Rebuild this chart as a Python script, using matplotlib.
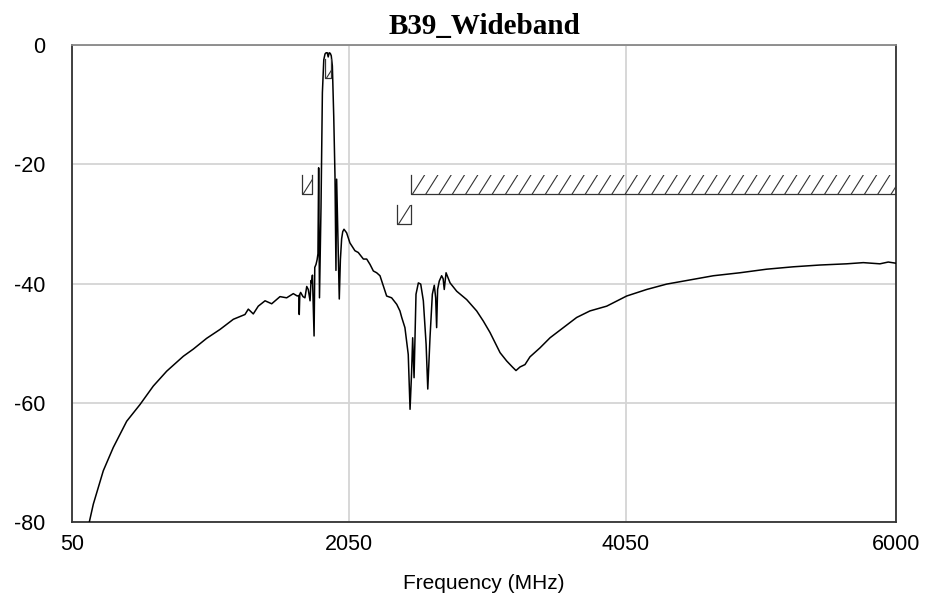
import numpy as np
import matplotlib
matplotlib.use("Agg")
import matplotlib.pyplot as plt
from matplotlib.patches import Rectangle

plt.rcParams["axes.unicode_minus"] = False

# measured response (MHz, dB)
freq = [175, 204, 276, 348, 445, 541, 637, 734, 854, 926, 1022, 1119, 1215,
        1299, 1323, 1359, 1395, 1444, 1492, 1552, 1600, 1648, 1677, 1688, 1691,
        1695, 1701, 1718, 1732, 1745, 1756, 1769, 1776, 1781, 1786, 1798, 1803,
        1812, 1820, 1826, 1831, 1837, 1848, 1858, 1868, 1877, 1885, 1893, 1900,
        1907, 1915, 1922, 1930, 1940, 1949, 1956, 1961, 1970, 1980, 1988, 1997,
        2005, 2014, 2033, 2057, 2093, 2117, 2154, 2178, 2202, 2226, 2250, 2274,
        2298, 2322, 2358, 2395, 2418, 2431, 2454, 2478, 2491, 2502, 2510, 2520,
        2534, 2551, 2568, 2587, 2607, 2619, 2635, 2652, 2666, 2676, 2683, 2690,
        2702, 2719, 2730, 2738, 2751, 2780, 2828, 2900, 2972, 3020, 3068, 3117,
        3141, 3189, 3230, 3256, 3285, 3321, 3357, 3429, 3502, 3598, 3694, 3790,
        3911, 4055, 4200, 4344, 4488, 4681, 4873, 5066, 5258, 5451, 5643, 5764,
        5884, 5944, 6000]
s21 = [-80.0, -77.0, -71.4, -67.5, -63.1, -60.3, -57.2, -54.7, -52.2, -51.0, -49.2, -47.7, -46.0,
       -45.2, -44.3, -45.1, -43.8, -42.9, -43.4, -42.2, -42.4, -41.7, -42.1, -42.0, -45.2,
       -41.8, -41.5, -42.2, -42.4, -40.5, -41.0, -42.9, -39.5, -39.9, -38.6, -48.8, -37.3,
       -36.8, -36.0, -35.0, -20.6, -42.4, -27.3, -8.0, -2.5, -1.5, -1.3, -1.3, -2.0,
       -1.3, -1.4, -1.8, -3.5, -12.0, -22.0, -37.8, -22.5, -32.0, -42.6, -36.0, -32.5,
       -31.3, -30.9, -31.5, -33.2, -34.5, -34.8, -35.9, -35.9, -36.8, -37.9, -38.2, -38.7,
       -40.4, -42.1, -42.4, -43.5, -44.6, -45.7, -47.4, -51.9, -61.1, -55.0, -49.1, -55.8,
       -41.8, -39.9, -40.1, -42.9, -50.2, -57.7, -49.1, -41.8, -40.3, -42.4, -47.4, -41.0,
       -39.6, -38.7, -39.2, -41.0, -38.2, -39.9, -41.3, -42.7, -44.6, -46.3, -48.2, -50.5,
       -51.6, -53.0, -54.0, -54.6, -54.0, -53.6, -52.3, -50.8, -49.1, -47.4, -45.7, -44.6,
       -43.8, -42.1, -41.0, -40.1, -39.5, -38.7, -38.2, -37.6, -37.2, -36.9, -36.7, -36.5,
       -36.7, -36.4, -36.6]

# spec masks: start, stop, limit (dB)
mask_start = [1880, 1710, 2400, 2500]
mask_stop = [1920, 1785, 2500, 6000]
mask_limit = [-5.5, -25, -30, -25]
mask_height = 3.2

fig = plt.figure(figsize=(9.28, 6.10), dpi=100)
ax = fig.add_axes([72/928, 88/610, 824/928, 477/610])

ax.plot(freq, s21, color="black", lw=1.1, zorder=3)

# masks with hand-drawn hatch
step = 96
slant = 87
for x0, x1, lim in zip(mask_start, mask_stop, mask_limit):
    top = lim + mask_height
    ax.plot([x0, x0, x1, x1], [top, lim, lim, top], color="#333333", lw=0.9, zorder=4)
    clip = Rectangle((x0, lim), x1 - x0, mask_height, transform=ax.transData)
    for xs in np.arange(x0 - slant, x1 + step, step):
        ln, = ax.plot([xs, xs + slant], [lim, top], color="#333333", lw=0.8, zorder=4)
        ln.set_clip_path(clip)

ax.set_xlim(50, 6000)
ax.set_ylim(-80, 0)
ax.set_xticks([50, 2050, 4050, 6000])
ax.set_yticks([-80, -60, -40, -20, 0])
ax.grid(True, color="#d4d4d4", lw=1.3)
ax.set_axisbelow(True)
ax.tick_params(axis="both", length=0, labelsize=15.5)
ax.tick_params(axis="y", pad=19)
ax.tick_params(axis="x", pad=9)
for lab in ax.get_xticklabels() + ax.get_yticklabels():
    lab.set_fontfamily("Liberation Sans")

for side in ["left", "bottom", "right"]:
    ax.spines[side].set_color("#333333")
    ax.spines[side].set_linewidth(1.3)
ax.spines["top"].set_color("#888888")
ax.spines["top"].set_linewidth(1.3)

ax.set_xlabel("Frequency (MHz)", fontsize=15, family="Liberation Sans", labelpad=13)
ax.set_title("B39_Wideband", fontsize=21, family="Liberation Serif", fontweight="bold", pad=8)

fig.savefig("out.png", dpi=100)
